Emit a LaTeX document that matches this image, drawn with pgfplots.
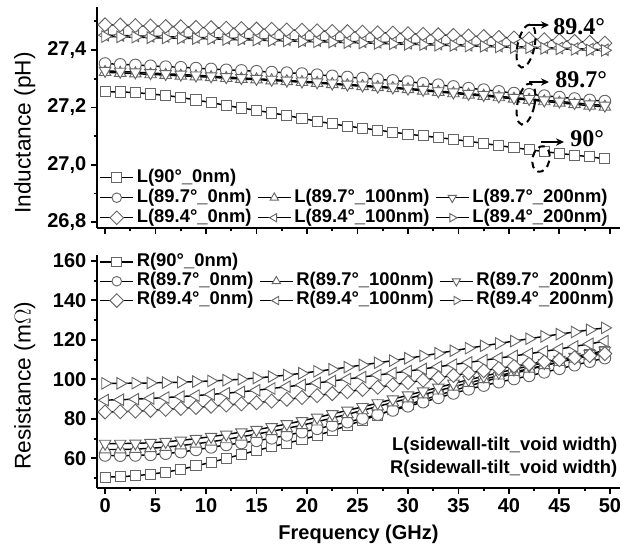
\documentclass[border=0pt]{standalone}
\usepackage{fontspec}
\setmainfont{Liberation Sans}
\newfontfamily\timesf{Liberation Serif}
\usepackage{pgfplots}
\usepackage{pgfplotstable}
\pgfplotsset{compat=1.18}
\usetikzlibrary{arrows.meta}

% inductance, pH  (s = 90_0, c = 89.7_0, u = 89.7_100, v = 89.7_200, d = 89.4_0, l = 89.4_100, r = 89.4_200)
\pgfplotstableread{
f s c u v d l r
0 27.255 27.353 27.323 27.328 27.488 27.452 27.447
1.5 27.254 27.350 27.320 27.325 27.487 27.451 27.446
3 27.252 27.348 27.318 27.323 27.485 27.449 27.445
4.5 27.247 27.345 27.315 27.320 27.484 27.448 27.443
6 27.242 27.342 27.313 27.317 27.482 27.447 27.442
7.5 27.235 27.340 27.310 27.315 27.481 27.445 27.441
9 27.226 27.337 27.308 27.312 27.479 27.444 27.440
10.5 27.217 27.334 27.305 27.309 27.478 27.443 27.439
12 27.207 27.331 27.302 27.306 27.476 27.441 27.437
13.5 27.198 27.329 27.299 27.303 27.475 27.440 27.436
15 27.190 27.326 27.297 27.300 27.473 27.439 27.435
16.5 27.181 27.323 27.294 27.297 27.472 27.437 27.433
18 27.172 27.321 27.291 27.294 27.470 27.436 27.432
19.5 27.162 27.318 27.288 27.291 27.469 27.434 27.430
21 27.152 27.314 27.285 27.288 27.467 27.433 27.429
22.5 27.143 27.310 27.281 27.284 27.465 27.432 27.428
24 27.135 27.306 27.277 27.280 27.464 27.430 27.426
25.5 27.128 27.302 27.274 27.277 27.462 27.429 27.425
27 27.121 27.298 27.270 27.273 27.460 27.427 27.423
28.5 27.114 27.294 27.267 27.270 27.459 27.426 27.422
30 27.107 27.290 27.263 27.266 27.457 27.424 27.420
31.5 27.101 27.284 27.258 27.262 27.455 27.422 27.419
33 27.095 27.279 27.254 27.257 27.453 27.421 27.417
34.5 27.089 27.273 27.249 27.253 27.451 27.419 27.416
36 27.082 27.267 27.244 27.248 27.449 27.417 27.414
37.5 27.075 27.262 27.240 27.244 27.447 27.416 27.413
39 27.067 27.256 27.235 27.239 27.444 27.414 27.411
40.5 27.060 27.250 27.230 27.234 27.442 27.412 27.409
42 27.053 27.246 27.226 27.230 27.439 27.410 27.408
43.5 27.046 27.241 27.221 27.225 27.436 27.408 27.406
45 27.040 27.236 27.216 27.221 27.433 27.407 27.404
46.5 27.034 27.231 27.211 27.216 27.430 27.405 27.402
48 27.028 27.226 27.206 27.211 27.427 27.403 27.400
49.5 27.021 27.222 27.202 27.207 27.424 27.401 27.399
}\Ltab

% resistance, mOhm
\pgfplotstableread{
f s c u v d l r
0 50.5 61.5 64.5 67.5 83.5 89.5 98.0
1.5 50.7 61.4 64.5 67.5 83.6 89.7 98.0
3 51.2 61.5 64.7 67.6 83.9 90.0 98.1
4.5 52.0 61.8 65.1 67.9 84.3 90.4 98.2
6 53.0 62.4 65.7 68.4 84.8 90.8 98.4
7.5 54.4 63.2 66.5 69.1 85.3 91.3 98.6
9 56.2 64.3 67.4 70.0 85.8 91.8 98.9
10.5 58.0 65.6 68.4 71.0 86.4 92.4 99.2
12 60.0 66.8 69.6 72.1 87.0 93.0 99.6
13.5 62.0 67.8 70.9 73.3 87.6 93.7 100.1
15 64.0 68.9 72.3 74.5 88.2 94.5 100.7
16.5 65.9 70.2 73.7 75.9 89.0 95.4 101.4
18 67.7 71.7 75.2 77.4 89.9 96.3 102.2
19.5 69.5 73.3 76.8 79.0 90.8 97.2 103.1
21 71.6 75.0 78.6 80.7 91.8 98.2 104.1
22.5 74.0 76.7 80.4 82.5 92.8 99.2 105.1
24 76.6 78.4 82.3 84.3 93.8 100.2 106.2
25.5 79.3 80.2 84.3 86.1 94.9 101.2 107.3
27 82.0 82.2 86.3 88.0 96.0 102.2 108.4
28.5 84.6 84.3 88.3 90.0 97.2 103.2 109.5
30 87.2 86.4 90.3 92.0 98.4 104.2 110.7
31.5 89.6 88.5 92.3 94.0 99.6 105.3 111.9
33 92.0 90.7 94.3 95.9 100.8 106.4 113.2
34.5 94.3 92.9 96.3 97.9 102.0 107.5 114.5
36 96.6 95.0 98.2 99.8 103.2 108.6 115.8
37.5 98.8 96.9 100.1 101.6 104.4 109.7 117.0
39 101.0 98.6 101.9 103.4 105.6 110.8 118.2
40.5 103.0 100.2 103.7 105.1 106.7 111.9 119.4
42 105.0 101.8 105.4 106.8 107.8 113.0 120.6
43.5 107.0 103.6 107.1 108.4 108.9 114.2 121.8
45 108.9 105.4 108.8 110.0 110.0 115.4 122.9
46.5 110.7 107.2 110.4 111.5 111.0 116.7 124.0
48 112.5 109.0 112.0 113.0 112.0 118.0 125.1
49.5 114.2 110.8 113.6 114.6 113.0 119.4 126.1
}\Rtab

\pgfplotsset{
  panel/.style={
    scale only axis, width=392.25pt,
    xmin=-0.8, xmax=51,
    axis lines*=left,
    axis line style={line width=2pt},
    tick align=outside,
    major tick length=4.5pt, minor tick length=2.5pt,
    every tick/.style={black, line width=1.4pt},
    xtick={0,5,...,50}, minor xtick={2.5,7.5,...,47.5},
    tick label style={font=\bfseries\fontsize{15}{18}\selectfont},
    /pgf/number format/assume math mode=true,
    label style={font=\fontsize{17}{20}\selectfont},
    legend cell align=left,
    legend columns=3,
    legend style={draw=none, fill=none, inner sep=0pt,
      font=\bfseries\fontsize{13.8}{16}\selectfont,
      nodes={inner sep=1pt, text height=10pt, text depth=3pt},
      /tikz/every odd column/.append style={column sep=1pt},
      /tikz/every even column/.append style={column sep=3pt}},
    legend image code/.code={\draw[mark repeat=2, mark phase=2, ##1, mark size=3.6pt]
      plot coordinates {(0pt,0pt) (12.5pt,0pt) (25pt,0pt)};},
  },
  ser/.style={black, line width=1.1pt,
    mark options={solid, fill=white, draw=black!60, line width=0.7pt}},
  msq/.style={ser, mark=square*, mark size=3.8pt},
  mci/.style={ser, mark=*, mark size=4.4pt},
  mup/.style={ser, mark=triangle*, mark size=5pt},
  mdn/.style={ser, mark=triangle*, mark size=5pt, every mark/.append style={rotate=180}},
  mdi/.style={ser, mark=square*, mark size=3.7pt, every mark/.append style={rotate=45}},
  mle/.style={ser, mark=triangle*, mark size=5pt, every mark/.append style={rotate=90}},
  mri/.style={ser, mark=triangle*, mark size=5pt, every mark/.append style={rotate=-90}},
}

\begin{document}
\begin{tikzpicture}
\useasboundingbox (0,0) rectangle (474.75pt,-409.5pt);

% inductance
\begin{axis}[panel,
  at={(72.75pt,-171pt)}, anchor=south west,
  height=165.75pt,
  ymin=26.78, ymax=27.55,
  ytick={26.8,27.0,27.2,27.4}, minor ytick={26.9,27.1,27.3,27.5},
  xticklabels={},
  yticklabel style={/pgf/number format/.cd, fixed, fixed zerofill, precision=1, use comma},
  ylabel={Inductance (pH)},
  ylabel style={at={(axis description cs:-0.138,0.43)}, anchor=center},
  legend style={at={(axis description cs:0.004,0.0)}, anchor=south west},
]
\addplot[msq] table[x=f,y=s]{\Ltab};
\addlegendentry{L(90°\_0nm)}
\addlegendimage{empty legend}\addlegendentry{}
\addlegendimage{empty legend}\addlegendentry{}
\addplot[mci] table[x=f,y=c]{\Ltab};
\addlegendentry{L(89.7°\_0nm)}
\addplot[mup] table[x=f,y=u]{\Ltab};
\addlegendentry{L(89.7°\_100nm)}
\addplot[mdn] table[x=f,y=v]{\Ltab};
\addlegendentry{L(89.7°\_200nm)}
\addplot[mdi] table[x=f,y=d]{\Ltab};
\addlegendentry{L(89.4°\_0nm)}
\addplot[mle] table[x=f,y=l]{\Ltab};
\addlegendentry{L(89.4°\_100nm)}
\addplot[mri] table[x=f,y=r]{\Ltab};
\addlegendentry{L(89.4°\_200nm)}
\end{axis}

% resistance
\begin{axis}[panel,
  at={(72.75pt,-366pt)}, anchor=south west,
  height=174.75pt,
  ymin=45, ymax=163,
  ytick={60,80,...,160}, minor ytick={50,70,...,150},
  xlabel={Frequency (GHz)},
  xlabel style={font=\bfseries\fontsize{15}{18}\selectfont, at={(axis description cs:0.5,-0.22)}, anchor=base},
  ylabel={Resistance (m$\Omega$)},
  ylabel style={at={(axis description cs:-0.138,0.438)}, anchor=center},
  legend style={at={(axis description cs:0.004,1.013)}, anchor=north west,
    nodes={inner sep=1pt, text height=9.5pt, text depth=3pt}},
]
\addplot[msq] table[x=f,y=s]{\Rtab};
\addlegendentry{R(90°\_0nm)}
\addlegendimage{empty legend}\addlegendentry{}
\addlegendimage{empty legend}\addlegendentry{}
\addplot[mci] table[x=f,y=c]{\Rtab};
\addlegendentry{R(89.7°\_0nm)}
\addplot[mup] table[x=f,y=u]{\Rtab};
\addlegendentry{R(89.7°\_100nm)}
\addplot[mdn] table[x=f,y=v]{\Rtab};
\addlegendentry{R(89.7°\_200nm)}
\addplot[mdi] table[x=f,y=d]{\Rtab};
\addlegendentry{R(89.4°\_0nm)}
\addplot[mle] table[x=f,y=l]{\Rtab};
\addlegendentry{R(89.4°\_100nm)}
\addplot[mri] table[x=f,y=r]{\Rtab};
\addlegendentry{R(89.4°\_200nm)}
\node[anchor=south east, align=right, inner sep=0pt,
  font=\bfseries\fontsize{13.8}{17}\selectfont]
  at (axis description cs:0.995,0.045)
  {L(sidewall-tilt\_void width)\\R(sidewall-tilt\_void width)};
\end{axis}

% annotations in pixel units
\begin{scope}[x=0.75pt, y=-0.75pt]
\draw[line width=1.5pt, dash pattern=on 5pt off 3.5pt, rotate around={-12:(526,46)}]
  (526,46) ellipse [x radius=8.5, y radius=22];
\draw[line width=1.5pt, dash pattern=on 5pt off 3.5pt, rotate around={-12:(526,104)}]
  (526,104) ellipse [x radius=8.5, y radius=21];
\draw[line width=1.5pt, dash pattern=on 5pt off 3.5pt, rotate around={-12:(541,159)}]
  (541,159) ellipse [x radius=8.5, y radius=13];
\draw[line width=1.4pt, -{Stealth[length=6pt,width=5.5pt]}] (530,25) -- (549,25);
\draw[line width=1.4pt, -{Stealth[length=6pt,width=5.5pt]}] (529,82) -- (549,82);
\draw[line width=1.4pt, -{Stealth[length=6pt,width=5.5pt]}] (541,142) -- (564,142);
\node[anchor=west, inner sep=0pt, font=\timesf\bfseries\fontsize{18}{20}\selectfont] at (553,27) {89.4°};
\node[anchor=west, inner sep=0pt, font=\timesf\bfseries\fontsize{18}{20}\selectfont] at (555,80) {89.7°};
\node[anchor=west, inner sep=0pt, font=\timesf\bfseries\fontsize{18}{20}\selectfont] at (570,139) {90°};
\end{scope}
\end{tikzpicture}
\end{document}
